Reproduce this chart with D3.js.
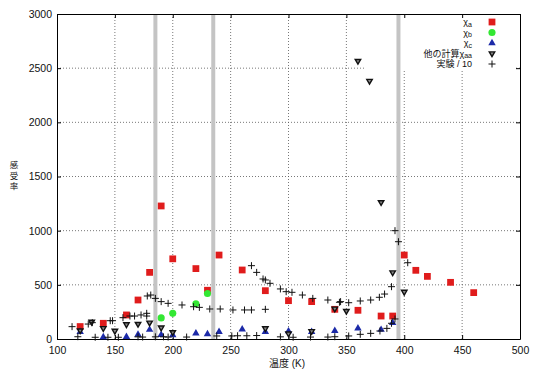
<!DOCTYPE html>
<html><head><meta charset="utf-8">
<script src="https://cdn.jsdelivr.net/npm/d3@7"></script>
<style>body{margin:0;background:#fff}svg{display:block}</style>
</head><body>
<svg id="c" width="533" height="374"></svg>
<script>
// ---- data (temperature K, susceptibility) ----
const chiA = [[120,115],[140,145],[160,222],[170,360],[180,615],[190,1228],[200,740],[220,650],[230,450],[240,775],[260,637],[280,446],[300,354],[320,345],[340,274],[360,265],[380,212],[390,212],[400,775],[410,634],[420,578],[440,523],[460,428]];
const chiB = [[190,195],[200,237],[220,325],[230,420]];
const chiC = [[120,67],[140,18],[160,20],[170,40],[180,86],[190,38],[200,37],[220,52],[230,46],[240,67],[260,89],[280,67],[300,72],[320,67],[340,75],[360,98],[380,86],[390,150]];
const chiOther = [[120,78],[130,158],[140,100],[150,75],[160,135],[170,138],[180,150],[190,105],[200,62],[280,98],[300,50],[320,72],[340,280],[350,258],[360,2566],[370,2382],[380,1262],[390,614],[400,435]];
const experiment = [[113,114],[118,21],[127,138],[130.5,151],[133,16],[144,16],[146,169],[148,169],[153,16],[157,197],[163,212],[167,212],[170,20],[172.6,222],[174,18],[177.5,237],[177.5,212],[178,397],[181,406],[185,375],[185,20],[190,345],[192,20],[196,329],[196,18],[208,314],[212,18],[218,298],[223,292],[232,277],[238,28],[241,277],[251,28],[252,268],[256,30],[262,268],[264,30],[268,268],[268,677],[272.5,615],[272.5,32],[278,554],[280,545],[280,274],[284,514],[293,462],[293,20],[298,437],[303,431],[304,16],[312,406],[319,18],[321,375],[334,360],[334,18],[340,21],[344,339],[345,345],[352,335],[352,28],[362,351],[362,43],[371,360],[371,52],[378.5,385],[379,74],[383,415],[385,98],[389,483],[389,145],[392,1000],[392,185],[395,898],[403,704]];
const transitions = [185, 235, 395];
const xTicks = [100,150,200,250,300,350,400,450,500];
const yTicks = [0,500,1000,1500,2000,2500,3000];
const legendLabels = [["χ","a"],["χ","b"],["χ","c"],["他の計算χ","aa"],["実験 / 10",""]];

const svg = d3.select("#c");
const L=57,R=520,T=14,B=339;
const x = d3.scaleLinear().domain([100,500]).range([L,R]);
const y = d3.scaleLinear().domain([0,3000]).range([B,T]);
const numFont = "'Liberation Sans', Arial, sans-serif";
const mixFont = "'Liberation Sans', 'Noto Sans CJK JP', sans-serif";

// grid
const grid = svg.append("g").attr("stroke","#555").attr("stroke-width",0.8).attr("stroke-dasharray","1,2");
xTicks.slice(1,-1).forEach(t=>grid.append("line").attr("x1",x(t)).attr("x2",x(t)).attr("y1",T).attr("y2",B));
yTicks.slice(1,-1).forEach(t=>grid.append("line").attr("x1",L).attr("x2",R).attr("y1",y(t)).attr("y2",y(t)));

// legend background (hides grid)
svg.append("rect").attr("x",364).attr("y",15).attr("width",152).attr("height",56).attr("fill","#fff");

// transition bands
svg.append("g").selectAll("line").data(transitions).join("line")
  .attr("x1",d=>x(d)).attr("x2",d=>x(d)).attr("y1",T).attr("y2",B)
  .attr("stroke","#c4c4c4").attr("stroke-width",4);

// axes
function styleAxis(g){g.select(".domain").attr("stroke","#000");g.selectAll(".tick line").attr("stroke","#000");
  g.selectAll("text").attr("font-family",numFont).attr("font-size",10.5).attr("fill","#111");}
const fmt = d3.format("d");
svg.append("g").attr("transform",`translate(0,${B})`).call(d3.axisBottom(x).tickValues(xTicks).tickFormat(fmt).tickSize(-4).tickPadding(8).tickSizeOuter(0)).call(styleAxis);
svg.append("g").attr("transform",`translate(0,${T})`).call(d3.axisTop(x).tickValues(xTicks).tickSize(-4).tickSizeOuter(0).tickFormat("")).call(styleAxis);
svg.append("g").attr("transform",`translate(${L},0)`).call(d3.axisLeft(y).tickValues(yTicks).tickFormat(fmt).tickSize(-4).tickPadding(5).tickSizeOuter(0)).call(styleAxis);
svg.append("g").attr("transform",`translate(${R},0)`).call(d3.axisRight(y).tickValues(yTicks).tickSize(-4).tickSizeOuter(0).tickFormat("")).call(styleAxis);

// points
const sym = (type,size)=>d3.symbol().type(type).size(size)();
const series = [
  {data:chiA, path:sym(d3.symbolSquare,46), fill:"#e01c1c", stroke:"none", sw:0, rot:0},
  {data:chiB, path:sym(d3.symbolCircle,40), fill:"#33e833", stroke:"none", sw:0, rot:0},
  {data:chiC, path:sym(d3.symbolTriangle,24), fill:"#1c2aa8", stroke:"none", sw:0, rot:0},
  {data:chiOther, path:sym(d3.symbolTriangle,13), fill:"#888", stroke:"#111", sw:1.4, rot:180},
  {data:experiment, path:"M-3.5,0H3.5M0,-3.5V3.5", fill:"none", stroke:"#111", sw:1, rot:0}
];
series.forEach(s=>{
  svg.append("g").selectAll("path").data(s.data).join("path")
    .attr("d",s.path).attr("transform",d=>`translate(${x(d[0])},${y(d[1])}) rotate(${s.rot})`)
    .attr("fill",s.fill).attr("stroke",s.stroke).attr("stroke-width",s.sw);
});

// legend
const lg = svg.append("g");
series.forEach((s,i)=>{
  const yy = 22 + i*10.5;
  lg.append("path").attr("d",s.path).attr("transform",`translate(492,${yy}) rotate(${s.rot})`)
    .attr("fill",s.fill).attr("stroke",s.stroke).attr("stroke-width",s.sw);
  const t = lg.append("text").attr("x",472).attr("y",yy+3).attr("text-anchor","end")
    .attr("font-family",mixFont).attr("font-size",9).attr("fill","#111");
  const lab = legendLabels[i];
  t.append("tspan").text(lab[0]);
  if(lab[1]) t.append("tspan").attr("font-size",7).attr("dy",1.5).text(lab[1]);
});

// axis titles
svg.append("text").attr("x",287).attr("y",367).attr("text-anchor","middle")
  .attr("font-family",mixFont).attr("font-size",10).attr("fill","#111").text("温度 (K)");
const yl = svg.append("text").attr("font-family",mixFont).attr("font-size",8.5).attr("fill","#111").attr("text-anchor","middle");
["感","受","率"].forEach((ch,i)=>yl.append("tspan").attr("x",14).attr("y",168+i*10.5).text(ch));
</script>
</body></html>
